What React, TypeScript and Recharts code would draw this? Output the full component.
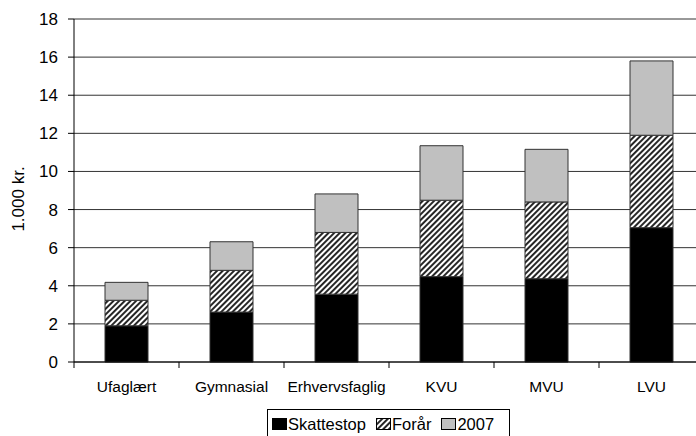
import React from 'react';
import { BarChart, Bar, XAxis, YAxis, CartesianGrid, Legend } from 'recharts';

const categories = ['Ufaglært', 'Gymnasial', 'Erhvervsfaglig', 'KVU', 'MVU', 'LVU'];
const skattestop = [1.9, 2.62, 3.56, 4.48, 4.37, 7.05];
const foraar = [1.34, 2.19, 3.24, 4.01, 4.03, 4.85];
const y2007 = [0.94, 1.5, 2.02, 2.86, 2.76, 3.9];
const yTicks = [0, 2, 4, 6, 8, 10, 12, 14, 16, 18];
const seriesNames = ['Skattestop', 'Forår', '2007'];

const data = categories.map((c, i) => ({
  name: c,
  s: skattestop[i],
  f: foraar[i],
  y: y2007[i],
}));

const FONT = '"Liberation Sans", Arial, sans-serif';
const CHART_W = 712;
const CHART_H = 436;
const MARGIN = { top: 19, right: 8, left: 24, bottom: 0 };
const YAXIS_W = 50;
const PLOT_W = CHART_W - MARGIN.left - MARGIN.right - YAXIS_W;

const XTick = (props: any) => {
  const { x, y, payload, index } = props;
  const band = PLOT_W / categories.length;
  const last = index === categories.length - 1;
  return (
    <g>
      <line x1={x - band / 2} y1={y} x2={x - band / 2} y2={y + 6} stroke="#000" />
      {last && <line x1={x + band / 2} y1={y} x2={x + band / 2} y2={y + 6} stroke="#000" />}
      <text x={x} y={y + 30} textAnchor="middle" fill="#000" fontSize={15.5} fontFamily={FONT}>
        {payload.value}
      </text>
    </g>
  );
};

const Swatch = ({ fill }: { fill: string }) => (
  <svg width={15} height={12} style={{ display: 'block' }}>
    <rect x={0.5} y={0.5} width={14} height={11} fill={fill} stroke="#000" strokeWidth={1} />
  </svg>
);

const LegendBox = () => {
  const fills = ['#000', 'url(#hatch)', '#c0c0c0'];
  return (
    <div
      style={{
        border: '1px solid #000',
        width: 243,
        height: 34,
        boxSizing: 'border-box',
        display: 'flex',
        alignItems: 'center',
        paddingLeft: 4,
        paddingBottom: 4,
        fontFamily: FONT,
        fontSize: 16.5,
        color: '#000',
        background: '#fff',
      }}
    >
      {seriesNames.map((n, i) => (
        <div key={n} style={{ display: 'flex', alignItems: 'center', marginRight: i < 2 ? 10 : 0 }}>
          <Swatch fill={fills[i]} />
          <span style={{ marginLeft: 1 }}>{n}</span>
        </div>
      ))}
    </div>
  );
};

export default function App() {
  return (
    <div style={{ position: 'absolute', left: 0, top: 0, width: 696, height: 436, overflow: 'hidden', background: '#fff' }}>
      <svg width={0} height={0} style={{ position: 'absolute' }}>
        <defs>
          <pattern id="hatch" patternUnits="userSpaceOnUse" width={4} height={4} patternTransform="rotate(45)">
            <rect width={4} height={4} fill="#fff" />
            <line x1={1} y1={0} x2={1} y2={4} stroke="#000" strokeWidth={1.7} />
          </pattern>
        </defs>
      </svg>
      <BarChart width={CHART_W} height={CHART_H} data={data} margin={MARGIN} barSize={43}>
        <CartesianGrid vertical={false} stroke="#333" />
        <XAxis
          dataKey="name"
          height={74}
          axisLine={{ stroke: '#000' }}
          tickLine={false}
          tickSize={0}
          tickMargin={0}
          tick={<XTick />}
          interval={0}
        />
        <YAxis
          width={YAXIS_W}
          domain={[0, 18]}
          ticks={yTicks}
          axisLine={{ stroke: '#000' }}
          tickLine={{ stroke: '#000' }}
          tickSize={6}
          tickMargin={10}
          tick={{ fill: '#000', fontSize: 17, fontFamily: FONT }}
          interval={0}
        />
        <Legend
          content={<LegendBox />}
          wrapperStyle={{ position: 'absolute', left: 267, top: 409, width: 243, height: 0, overflow: 'visible' }}
        />
        <Bar dataKey="s" name={seriesNames[0]} stackId="a" fill="#000" stroke="#333" isAnimationActive={false} />
        <Bar dataKey="f" name={seriesNames[1]} stackId="a" fill="url(#hatch)" stroke="#333" isAnimationActive={false} />
        <Bar dataKey="y" name={seriesNames[2]} stackId="a" fill="#c0c0c0" stroke="#333" isAnimationActive={false} />
      </BarChart>
      <svg width={40} height={436} style={{ position: 'absolute', left: 0, top: 0 }}>
        <text
          transform="translate(24,199) rotate(-90)"
          textAnchor="middle"
          fontSize={17}
          fontFamily={FONT}
          fill="#000"
        >
          1.000 kr.
        </text>
      </svg>
    </div>
  );
}
